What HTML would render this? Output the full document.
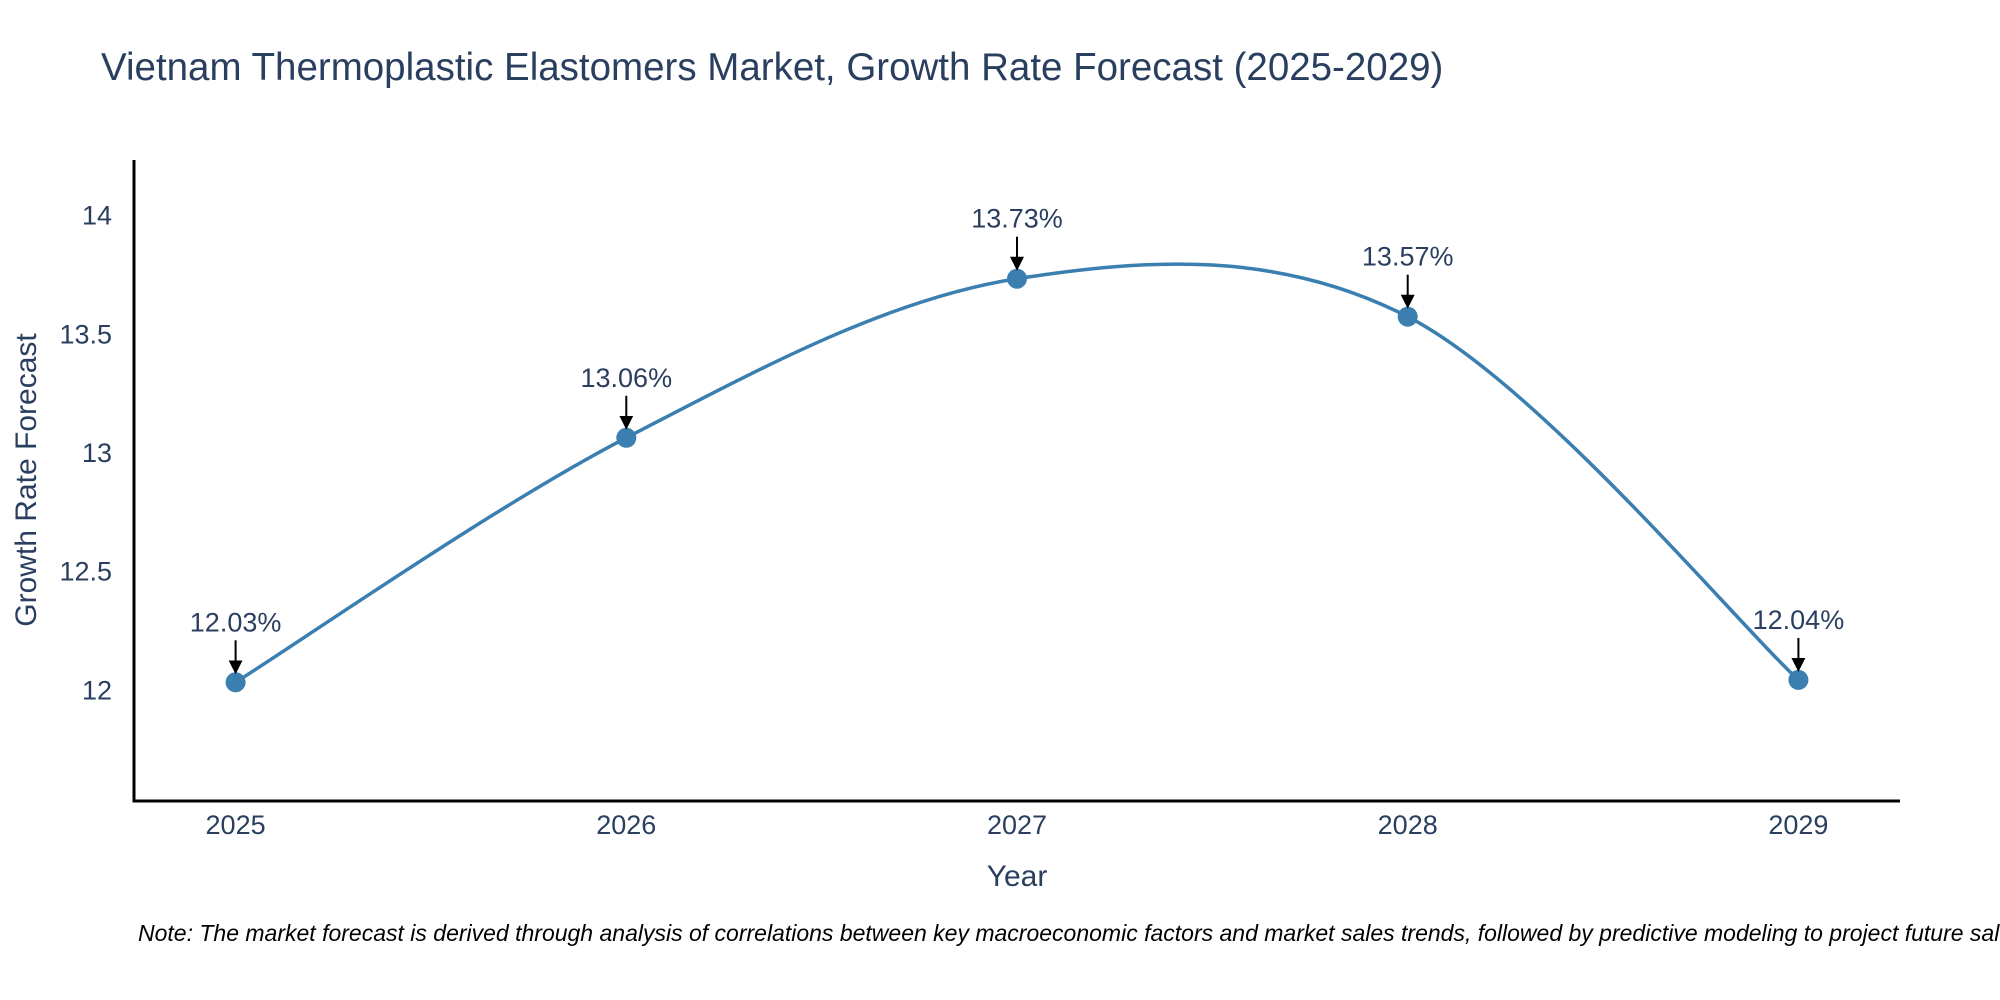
<!DOCTYPE html>
<html><head><meta charset="utf-8"><style>
html,body{margin:0;padding:0;background:#fff;}
svg{display:block;font-family:"Liberation Sans",sans-serif;}
</style></head><body>
<svg id="chart" width="2000" height="1000" viewBox="0 0 2000 1000" xmlns="http://www.w3.org/2000/svg">
<text x="101" y="80" font-size="38.5" fill="#2a3f5f">Vietnam Thermoplastic Elastomers Market, Growth Rate Forecast (2025-2029)</text>
<g id="plot"></g>
<text transform="translate(36,480) rotate(-90)" text-anchor="middle" font-size="30" fill="#2a3f5f">Growth Rate Forecast</text>
<text x="1017" y="886" text-anchor="middle" font-size="30" fill="#2a3f5f">Year</text>
<text x="138" y="941" font-size="23" font-style="italic" fill="#000">Note: The market forecast is derived through analysis of correlations between key macroeconomic factors and market sales trends, followed by predictive modeling to project future sales.</text>
</svg>
<script>
const years = [2025, 2026, 2027, 2028, 2029];
const growth = [12.03, 13.06, 13.73, 13.57, 12.04];
const labels = ["12.03%", "13.06%", "13.73%", "13.57%", "12.04%"];
const yTicks = [12, 12.5, 13, 13.5, 14];
const yTickLabels = ["12", "12.5", "13", "13.5", "14"];

const L=134,R=1900,T=160,B=801;
const xMin=2024.74,xMax=2029.26,yMin=11.53,yMax=14.23;
const xs=v=>L+(v-xMin)/(xMax-xMin)*(R-L);
const ys=v=>B-(v-yMin)/(yMax-yMin)*(B-T);
const NS="http://www.w3.org/2000/svg";
const g=document.getElementById('plot');
function mk(tag,attrs,txt){const e=document.createElementNS(NS,tag);for(const k in attrs)e.setAttribute(k,attrs[k]);if(txt!==undefined)e.textContent=txt;g.appendChild(e);return e;}

const defs=mk('defs',{});
defs.innerHTML='<marker id="ah" markerWidth="7" markerHeight="7" refX="6" refY="3.5" orient="auto" markerUnits="strokeWidth"><path d="M0,0 L7,3.5 L0,7 z" fill="#000"/></marker>';

yTicks.forEach((t,i)=>{
  const e=mk('text',{x:L-22,y:ys(t)+10,'text-anchor':'end','font-size':27,fill:'#2a3f5f'},yTickLabels[i]);
  
  
});
years.forEach(yr=>{
  const e=mk('text',{x:xs(yr),y:B+33,'text-anchor':'middle','font-size':27,fill:'#2a3f5f'},String(yr));
  
  
});

const ya=mk('line',{x1:L,y1:T,x2:L,y2:B+1.5,stroke:'#000','stroke-width':3});


const xa=mk('line',{x1:L-1.5,y1:B,x2:R,y2:B,stroke:'#000','stroke-width':3});



const P=years.map((yr,i)=>[xs(yr),ys(growth[i])]);
let d='M'+P[0][0]+','+P[0][1];
for(let i=0;i<P.length-1;i++){
  const p0=P[Math.max(0,i-1)],p1=P[i],p2=P[i+1],p3=P[Math.min(P.length-1,i+2)];
  const c1=[p1[0]+(p2[0]-p0[0])/6,p1[1]+(p2[1]-p0[1])/6];
  const c2=[p2[0]-(p3[0]-p1[0])/6,p2[1]-(p3[1]-p1[1])/6];
  d+=' C'+c1+' '+c2+' '+p2;
}
const line=mk('path',{d:d,fill:'none',stroke:'#3b7fb1','stroke-width':3.5});



P.forEach((p,i)=>{
  const c=mk('circle',{cx:p[0],cy:p[1],r:10,fill:'#3b7fb1'});
  
  
  const a=mk('line',{x1:p[0],y1:p[1]-42,x2:p[0],y2:p[1]-10,stroke:'#000','stroke-width':2,'marker-end':'url(#ah)'});
  
  
  const t=mk('text',{x:p[0],y:p[1]-51,'text-anchor':'middle','font-size':27,fill:'#2a3f5f'},labels[i]);
  
  
});
</script>
</body></html>
